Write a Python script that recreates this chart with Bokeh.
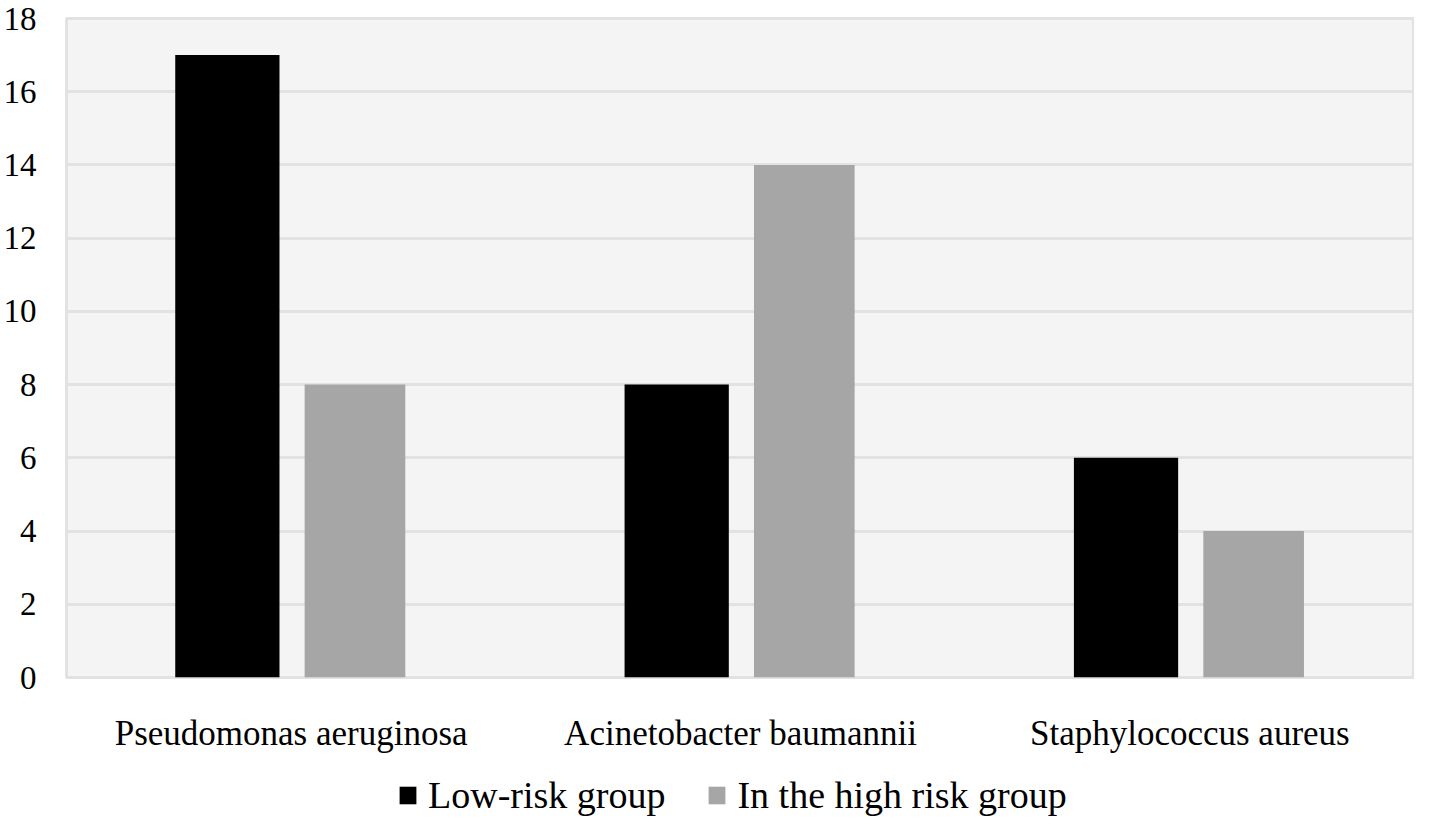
from bokeh.plotting import figure
from bokeh.layouts import column
from bokeh.models import FactorRange, ColumnDataSource, Legend, LegendItem, SingleIntervalTicker, Range1d
from bokeh.transform import dodge
from bokeh.embed import file_html
from bokeh.resources import INLINE

categories = ["Pseudomonas aeruginosa", "Acinetobacter baumannii", "Staphylococcus aureus"]
low_risk = [17, 8, 6]
high_risk = [8, 14, 4]
series_names = ["Low-risk group", "In the high risk group"]

src = ColumnDataSource(data=dict(cat=categories, low=low_risk, high=high_risk))

FONT = "Liberation Serif"
BLACK = "black"
GRAY = "#a6a6a6"

p = figure(x_range=FactorRange(*categories, range_padding=0), y_range=(0, 18),
           width=1414, height=760, output_backend="svg", toolbar_location=None,
           min_border_left=58, min_border_right=0, min_border_top=18, min_border_bottom=83)

p.background_fill_color = "#f4f4f4"
p.border_fill_color = "white"
p.outline_line_color = "#e2e2e2"
p.outline_line_width = 3

p.vbar(x=dodge("cat", -0.142, range=p.x_range), top="low", width=0.232, source=src,
       fill_color=BLACK, line_color=None)
p.vbar(x=dodge("cat", 0.142, range=p.x_range), top="high", width=0.224, source=src,
       fill_color=GRAY, line_color=None)

p.xgrid.grid_line_color = None
p.ygrid.grid_line_color = "#e2e2e2"
p.ygrid.grid_line_width = 3
p.yaxis.ticker = SingleIntervalTicker(interval=2)

for ax in (p.xaxis[0], p.yaxis[0]):
    ax.axis_line_color = None
    ax.major_tick_line_color = None
    ax.minor_tick_line_color = None
    ax.major_label_text_font = FONT
    ax.major_label_text_color = "black"

p.xaxis.major_label_text_font_size = "35px"
p.yaxis.major_label_text_font_size = "33px"
p.yaxis.major_label_standoff = 24
p.xaxis.major_label_standoff = 30

# legend strip below the chart (its glyph renderers lie outside its visible y range)
lg = figure(x_range=FactorRange(*categories), y_range=Range1d(100, 101),
            width=1414, height=57, output_backend="svg", toolbar_location=None,
            min_border_left=0, min_border_right=0, min_border_top=0, min_border_bottom=0)
lg.axis.visible = False
lg.grid.visible = False
lg.outline_line_color = None
lg.background_fill_color = "white"
d1 = lg.vbar(x="cat", top="low", width=0.2, source=src, fill_color=BLACK, line_color=None)
d2 = lg.vbar(x="cat", top="high", width=0.2, source=src, fill_color=GRAY, line_color=None)

legend = Legend(items=[LegendItem(label=series_names[0], renderers=[d1]),
                       LegendItem(label=series_names[1], renderers=[d2])],
                orientation="horizontal", location=(331, 0),
                label_text_font=FONT, label_text_font_size="38px", label_text_color="black",
                glyph_width=21, glyph_height=22, spacing=41, label_standoff=10,
                border_line_color=None, background_fill_alpha=0,
                margin=0, padding=0)
lg.add_layout(legend)

layout = column(p, lg, spacing=0)
open("out.html", "w").write(file_html(layout, INLINE))
